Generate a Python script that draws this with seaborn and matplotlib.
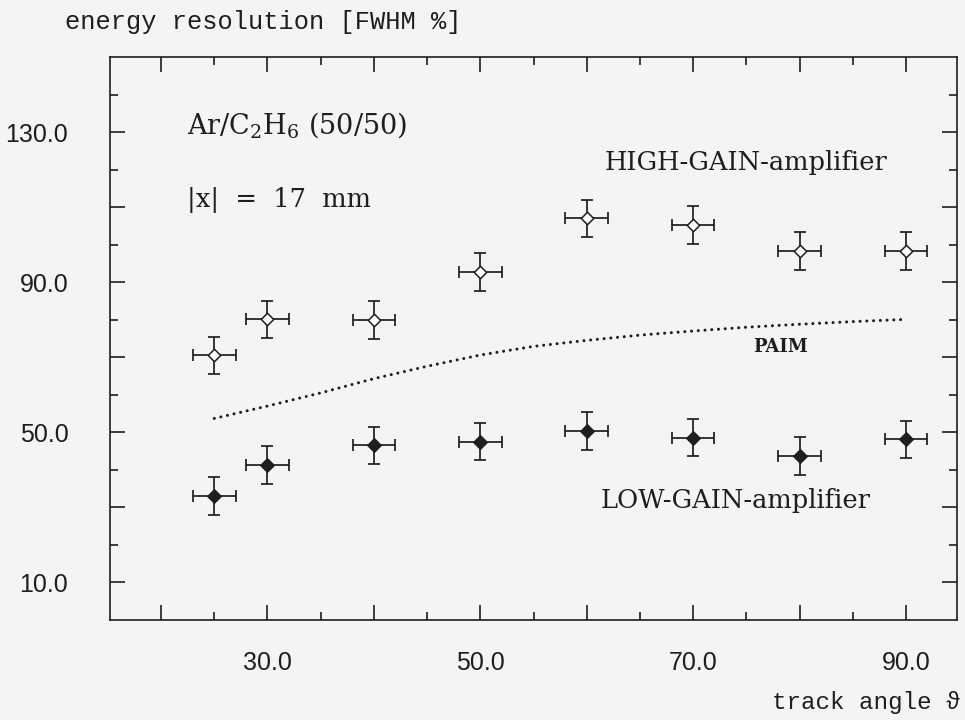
import numpy as np
import pandas as pd
import matplotlib
matplotlib.use("Agg")
import matplotlib.pyplot as plt
import seaborn as sns
from matplotlib.ticker import FixedLocator

# ---- data ----
angles = [25, 30, 40, 50, 60, 70, 80, 90]
high_gain = [70.5, 80.1, 80.0, 92.7, 107.0, 105.2, 98.3, 98.3]
low_gain = [33.0, 41.3, 46.5, 47.5, 50.3, 48.6, 43.7, 48.1]
x_err = [2.0] * 8
y_err = [5.0] * 8
paim_angle = [25, 30, 35, 40, 45, 50, 55, 60, 65, 70, 75, 80, 85, 90]
paim_res = [53.7, 57.0, 60.5, 64.3, 67.6, 70.6, 72.9, 74.5, 75.9, 77.0, 78.0, 78.8, 79.5, 80.1]
x_ticklabels = ["30.0", "50.0", "70.0", "90.0"]
y_ticklabels = ["10.0", "50.0", "90.0", "130.0"]

df_hi = pd.DataFrame({"angle": angles, "res": high_gain})
df_lo = pd.DataFrame({"angle": angles, "res": low_gain})
df_paim = pd.DataFrame({"angle": paim_angle, "res": paim_res})

sns.set_theme(style="ticks")
bg = "#f4f4f4"
plt.rcParams["mathtext.fontset"] = "dejavuserif"

fig = plt.figure(figsize=(9.65, 7.2), dpi=100, facecolor=bg)
ax = fig.add_axes([110 / 965, 1 - 620 / 720, 847 / 965, 563 / 720])
ax.set_facecolor(bg)

ink = "#1e1e1e"
lw = 1.25
ax.errorbar(angles, high_gain, xerr=x_err, yerr=y_err, fmt="none",
            ecolor=ink, elinewidth=lw, capsize=4.5, capthick=lw, zorder=2)
ax.errorbar(angles, low_gain, xerr=x_err, yerr=y_err, fmt="none",
            ecolor=ink, elinewidth=lw, capsize=4.5, capthick=lw, zorder=2)

sns.lineplot(data=df_paim, x="angle", y="res", ax=ax, color=ink,
             linestyle=(0, (0.01, 2.2)), linewidth=2.2, dash_capstyle="round", zorder=1)
sns.scatterplot(data=df_hi, x="angle", y="res", ax=ax, marker="D", s=40,
                facecolor="white", edgecolor=ink, linewidth=1.1, zorder=3)
sns.scatterplot(data=df_lo, x="angle", y="res", ax=ax, marker="D", s=48,
                color=ink, edgecolor=ink, linewidth=1.0, zorder=3)

ax.set_xlim(15.2, 94.8)
ax.set_ylim(0, 150)
ax.set_xlabel("")
ax.set_ylabel("")

for s in ax.spines.values():
    s.set_visible(True)
    s.set_linewidth(1.2)
    s.set_color(ink)

ax.xaxis.set_major_locator(FixedLocator([30, 50, 70, 90]))
ax.set_xticklabels(x_ticklabels)
ax.yaxis.set_major_locator(FixedLocator([10, 50, 90, 130]))
ax.set_yticklabels(y_ticklabels)
ax.xaxis.set_minor_locator(FixedLocator([25, 35, 45, 55, 65, 75, 85]))
ax.yaxis.set_minor_locator(FixedLocator([20, 40, 60, 80, 100, 120, 140]))

ax.tick_params(axis="both", which="major", direction="in", length=11, width=1.2,
               color=ink, top=True, right=True, labelsize=18, labelcolor=ink)
ax.tick_params(axis="x", which="major", pad=22)
ax.tick_params(axis="y", which="major", pad=30)
ax.tick_params(axis="both", which="minor", direction="in", length=5.5, width=1.2,
               color=ink, top=True, right=True)
for lab in ax.get_xticklabels() + ax.get_yticklabels():
    lab.set_family("Liberation Sans")

# additional long ticks (unlabelled)
long_x = [20, 40, 60, 80]
long_y = [30, 70, 110]
for loc in ["bottom", "top"]:
    sx = ax.secondary_xaxis(loc)
    sx.set_xticks(long_x)
    sx.tick_params(direction="in", length=11, width=1.2, color=ink,
                   labelbottom=False, labeltop=False)
    sx.spines[loc].set_visible(False)
for loc in ["left", "right"]:
    sy = ax.secondary_yaxis(loc)
    sy.set_yticks(long_y)
    sy.tick_params(direction="in", length=11, width=1.2, color=ink,
                   labelleft=False, labelright=False)
    sy.spines[loc].set_visible(False)

serif = "DejaVu Serif"
ax.text(0.091, 0.879, "Ar/C$_2$H$_6$ (50/50)", transform=ax.transAxes,
        fontsize=19.5, family=serif, color=ink, va="center", ha="left")
ax.text(0.091, 0.746, "|x|  =  17  mm", transform=ax.transAxes,
        fontsize=18.5, family=serif, color=ink, va="center", ha="left")
ax.text(0.584, 0.813, "HIGH-GAIN-amplifier", transform=ax.transAxes,
        fontsize=18.5, family=serif, color=ink, va="center", ha="left")
ax.text(0.759, 0.485, "PAIM", transform=ax.transAxes,
        fontsize=13, family=serif, weight="bold", color=ink, va="center", ha="left")
ax.text(0.579, 0.213, "LOW-GAIN-amplifier", transform=ax.transAxes,
        fontsize=18.5, family=serif, color=ink, va="center", ha="left")

fig.text(65 / 965, 1 - 22 / 720, "energy resolution [FWHM %]",
         family=["Liberation Mono", "DejaVu Sans Mono"], fontsize=18.3, color=ink,
         ha="left", va="center")
fig.text(0.995, 1 - 703 / 720, "track angle \u03d1",
         family=["Liberation Mono", "DejaVu Sans Mono", "DejaVu Serif"], fontsize=17.5,
         color=ink, ha="right", va="center")

fig.savefig("out.png", dpi=100, facecolor=bg)
